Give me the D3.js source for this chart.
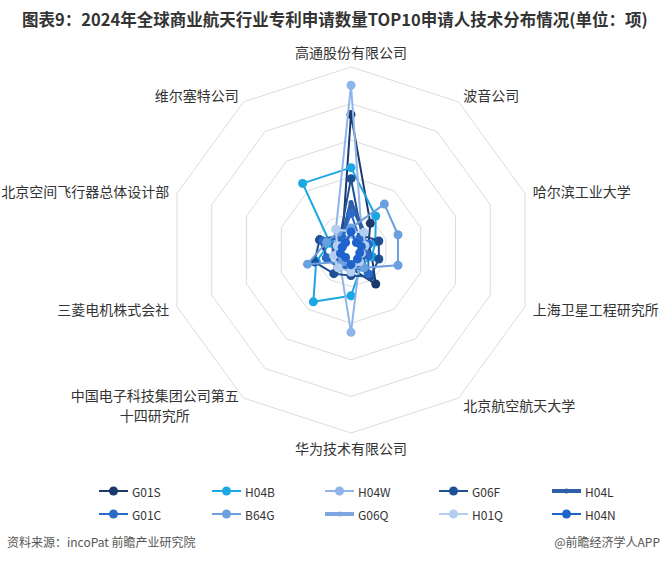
<!DOCTYPE html>
<html>
<head>
<meta charset="utf-8">
<script src="https://cdn.jsdelivr.net/npm/d3@7"></script>
<style>
  body { margin: 0; background: #fff; }
  text { font-family: "Noto Sans CJK SC", "Noto Sans", sans-serif; }
</style>
</head>
<body>
<svg id="chart"></svg>
<script>
const indicators = ['高通股份有限公司', '波音公司', '哈尔滨工业大学', '上海卫星工程研究所', '北京航空航天大学',
  '华为技术有限公司', '中国电子科技集团公司第五\n十四研究所', '三菱电机株式会社', '北京空间飞行器总体设计部', '维尔塞特公司'];
const seriesNames = ['G01S', 'H04B', 'H04W', 'G06F', 'H04L', 'G01C', 'B64G', 'G06Q', 'H01Q', 'H04N'];
const seriesColors = ['#1b3a6b', '#1aa7e3', '#8fb4ea', '#1f4f94', '#2f5fa5', '#2a6bc9', '#6a9fe0', '#7fa6e0', '#b4cef2', '#1f63cc'];
const thickSeries = ['H04L', 'G06Q'];

// values per applicant, same order as indicators
const G01S = [74, 18, 10, 12, 23, 10, 12, 14, 18, 8];
const H04B = [45, 23, 14, 12, 10, 25, 35, 20, 12, 45];
const H04W = [90, 10, 8, 8, 8, 45, 10, 8, 8, 14];
const G06F = [39, 10, 16, 16, 18, 14, 16, 21, 18, 10];
const H04L = [26, 12, 8, 8, 10, 12, 10, 10, 10, 8];
const G01C = [20, 8, 10, 10, 16, 8, 12, 14, 16, 8];
const B64G = [12, 31, 27, 27, 12, 10, 8, 25, 14, 12];
const G06Q = [8, 6, 6, 6, 6, 8, 6, 6, 6, 6];
const H01Q = [10, 12, 8, 6, 8, 12, 12, 10, 8, 14];
const H04N = [10, 5, 6, 5, 6, 8, 5, 6, 5, 5];
const seriesValues = [G01S, H04B, H04W, G06F, H04L, G01C, B64G, G06Q, H01Q, H04N];
const ringValues = [20, 40, 60, 80, 100];

const w = 666, h = 566;
const cx = 351, cy = 250, R = 183;

const svg = d3.select('#chart')
  .attr('width', w)
  .attr('height', h);

svg.append('text')
  .attr('x', 22)
  .attr('y', 26)
  .attr('font-size', 16.5)
  .attr('font-weight', 'bold')
  .attr('fill', '#333')
  .text('图表9：2024年全球商业航天行业专利申请数量TOP10申请人技术分布情况(单位：项)');

const rScale = d3.scaleLinear().domain([0, 100]).range([0, R]);
const angle = d3.scalePoint().domain(d3.range(indicators.length + 1)).range([0, 2 * Math.PI]);

const g = svg.append('g').attr('transform', `translate(${cx},${cy})`);

const radial = d3.lineRadial()
  .angle((_, i) => angle(i))
  .radius(d => rScale(d))
  .curve(d3.curveLinearClosed);

g.selectAll('.ring')
  .data(ringValues)
  .join('path')
    .attr('class', 'ring')
    .attr('d', v => radial(indicators.map(() => v)))
    .attr('fill', 'none')
    .attr('stroke', '#dcdcdc')
    .attr('stroke-width', 1);

// axis names
indicators.forEach((name, i) => {
  const a = angle(i);
  const [x, y] = d3.pointRadial(a, R + 8);
  const s = Math.sin(a), c = Math.cos(a);
  const anchor = Math.abs(s) < 0.01 ? 'middle' : (s > 0 ? 'start' : 'end');
  const dy = Math.abs(s) < 0.01 ? (c > 0 ? -7 : 7) : 0;
  const lines = name.split('\n');
  const t = g.append('text')
    .attr('font-size', 14)
    .attr('fill', '#333')
    .attr('dominant-baseline', 'central');
  if (lines.length === 1) {
    t.attr('x', x).attr('y', y + dy).attr('text-anchor', anchor).text(name);
  } else {
    t.attr('text-anchor', 'middle');
    const first = t.append('tspan').attr('x', x).attr('y', y - 10).text(lines[0]);
    const wFirst = first.node().getComputedTextLength();
    first.attr('x', x - wFirst / 2);
    t.append('tspan').attr('x', x - wFirst / 2).attr('y', y + 10).text(lines[1]);
  }
});

seriesValues.forEach((vals, si) => {
  const name = seriesNames[si];
  const color = seriesColors[si];
  const thick = thickSeries.includes(name);
  const sg = g.append('g');
  sg.append('path')
    .attr('d', radial(vals))
    .attr('fill', 'none')
    .attr('stroke', color)
    .attr('stroke-width', thick ? 4 : 2)
    .attr('stroke-linejoin', 'round');
  sg.selectAll('circle')
    .data(vals)
    .join('circle')
      .attr('cx', (d, i) => d3.pointRadial(angle(i), rScale(d))[0])
      .attr('cy', (d, i) => d3.pointRadial(angle(i), rScale(d))[1])
      .attr('r', thick ? 2.5 : 4.5)
      .attr('fill', color);
});

// legend, 5 per row
const legend = svg.append('g');
const colX = [99, 212, 325, 439, 552];
const rowY = [491, 514];
seriesNames.forEach((name, i) => {
  const x = colX[i % 5], y = rowY[Math.floor(i / 5)];
  const thick = thickSeries.includes(name);
  const item = legend.append('g').attr('transform', `translate(${x},${y})`);
  item.append('line')
    .attr('x1', 0).attr('x2', 29)
    .attr('stroke', seriesColors[i])
    .attr('stroke-width', thick ? 4 : 2);
  item.append('circle')
    .attr('cx', 14.5)
    .attr('r', thick ? 2.5 : 4.5)
    .attr('fill', seriesColors[i]);
  item.append('text')
    .attr('x', 33)
    .attr('dominant-baseline', 'central')
    .attr('font-size', 12)
    .attr('fill', '#333')
    .text(name);
});

svg.append('text')
  .attr('x', 7)
  .attr('y', 547)
  .attr('font-size', 12)
  .attr('fill', '#555')
  .text('资料来源：incoPat 前瞻产业研究院');

svg.append('text')
  .attr('x', 660)
  .attr('y', 547)
  .attr('text-anchor', 'end')
  .attr('font-size', 12)
  .attr('fill', '#555')
  .text('@前瞻经济学人APP');
</script>
</body>
</html>
